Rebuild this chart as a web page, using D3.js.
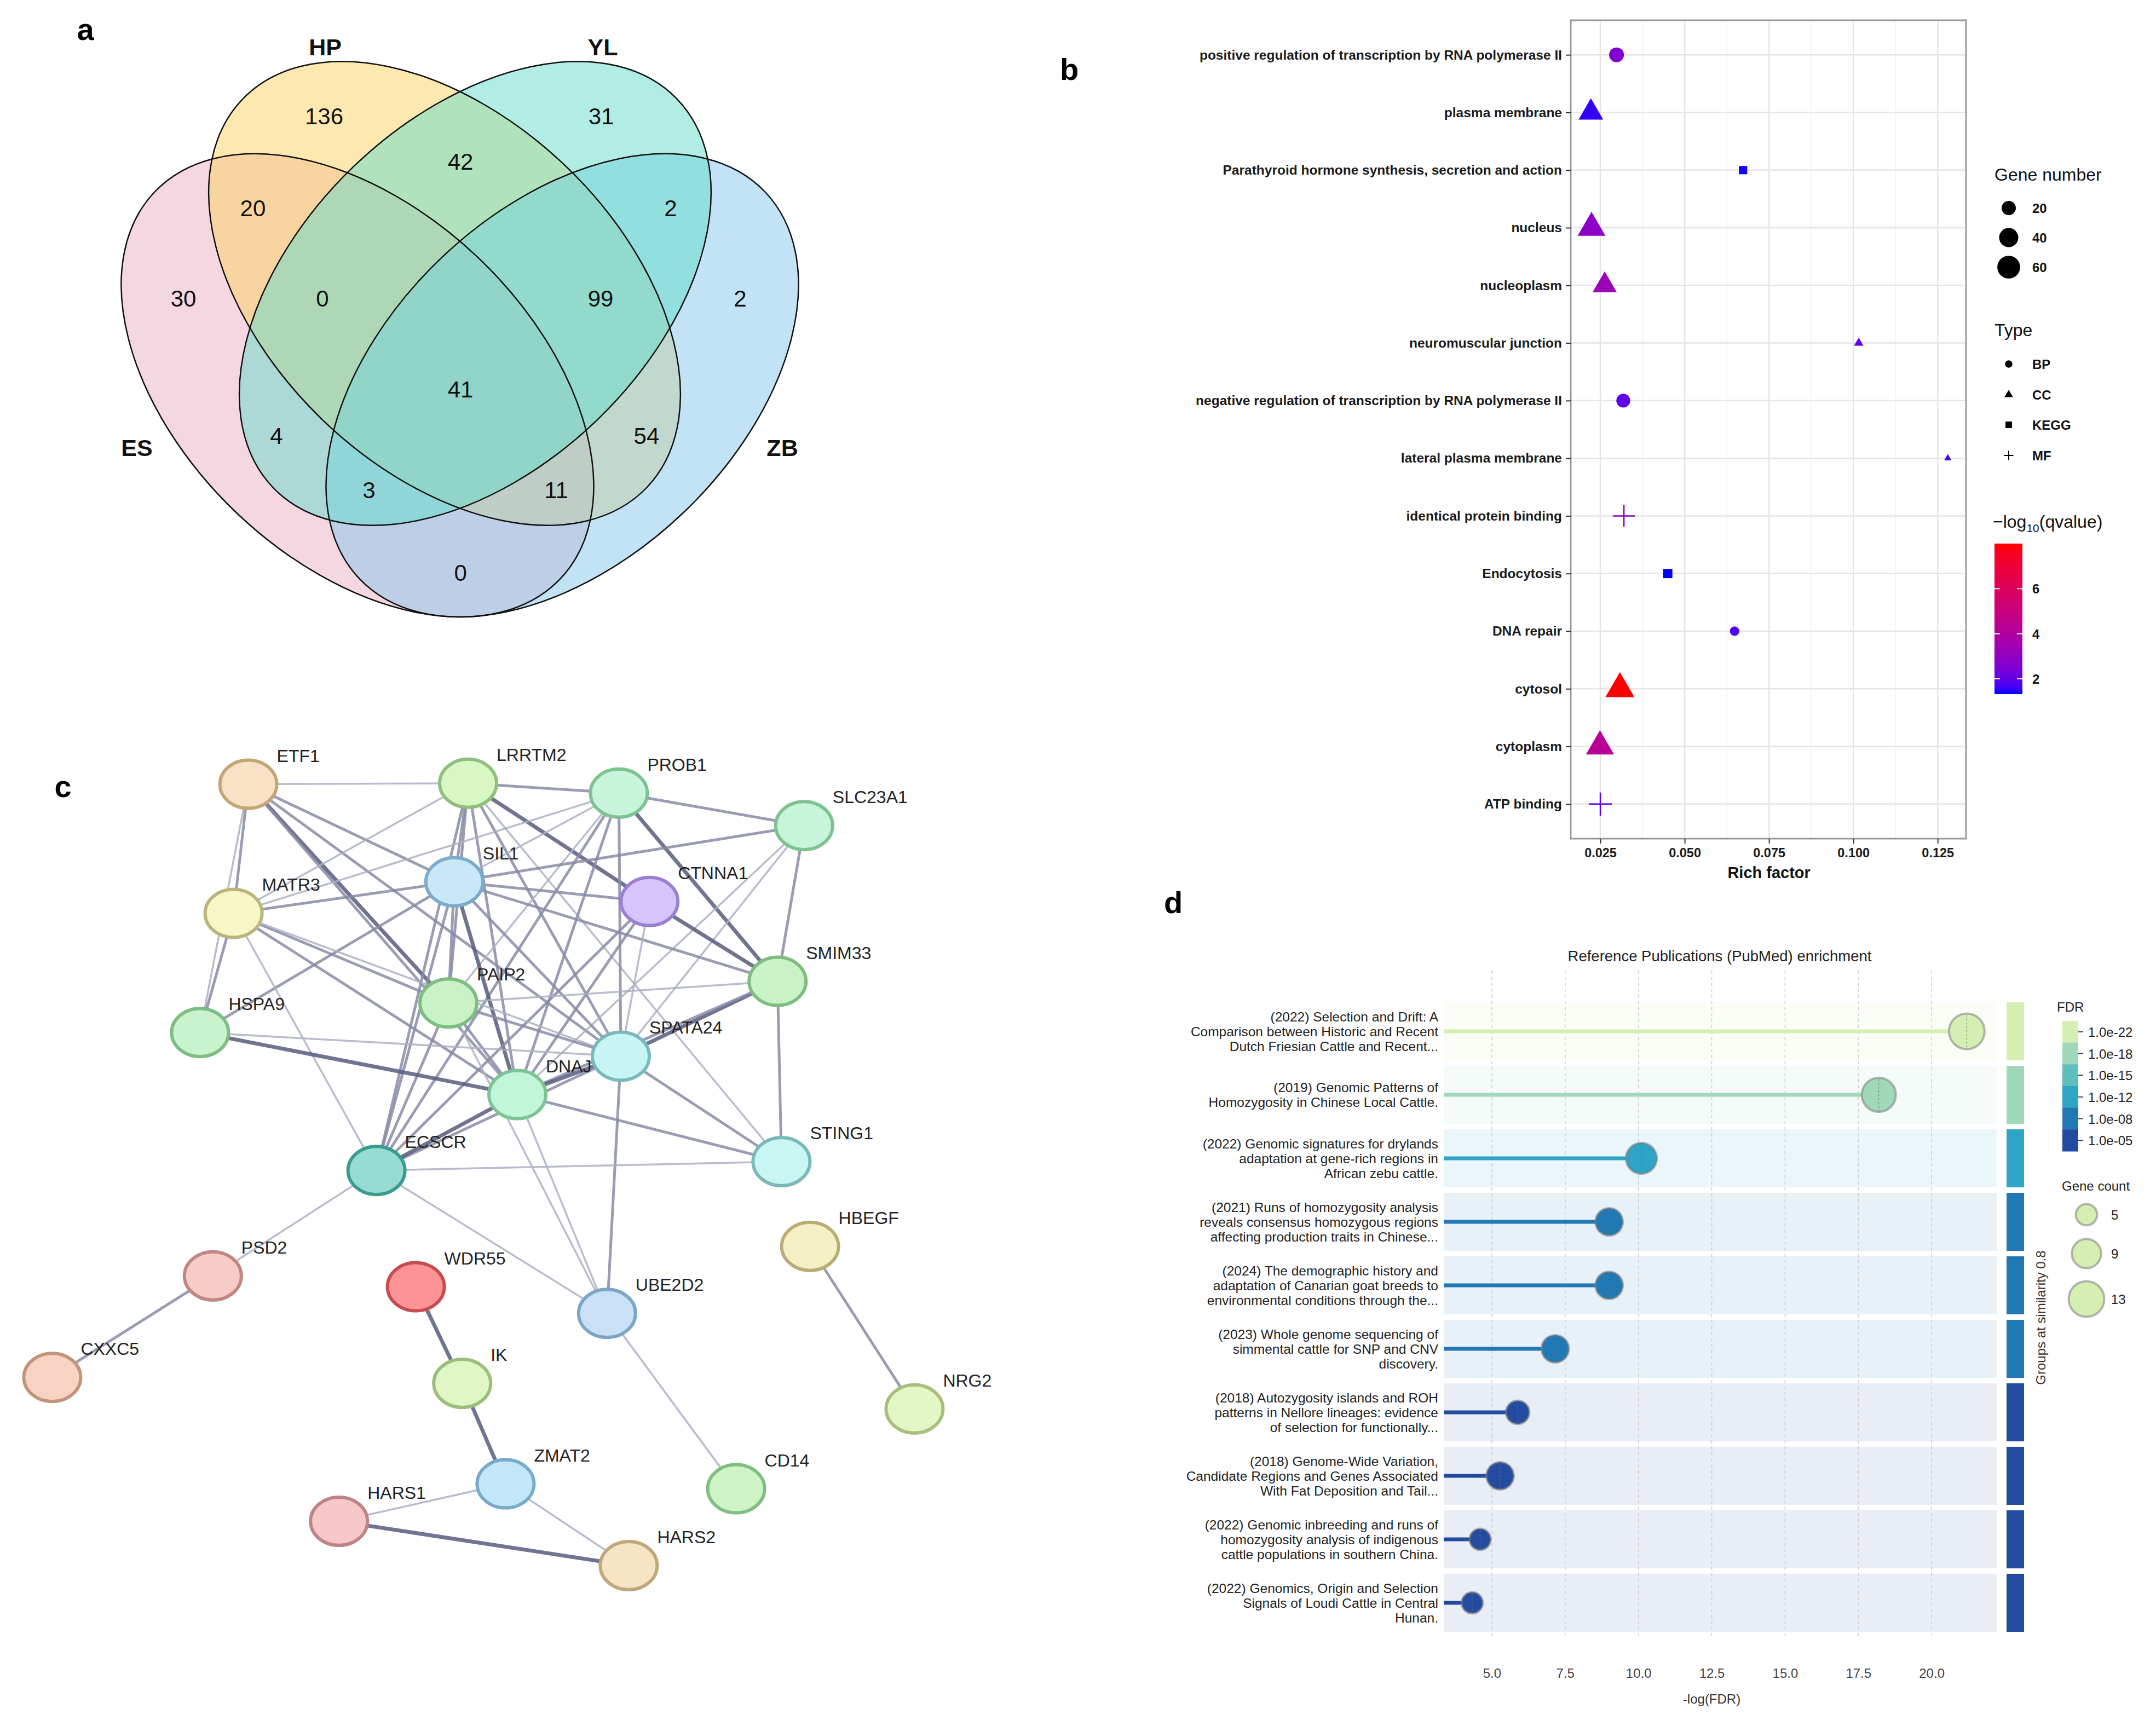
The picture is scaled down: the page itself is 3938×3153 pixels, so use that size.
<!DOCTYPE html>
<html>
<head>
<meta charset="utf-8">
<script src="https://cdn.jsdelivr.net/npm/d3@7"></script>
<style>
  body { margin: 0; background: #fff; }
  svg { display: block; font-family: "Liberation Sans", Arial, Helvetica, sans-serif; }
</style>
</head>
<body>
<svg id="fig" width="3938" height="3153"></svg>
<script>
// ---------- data : panel a (venn) ----------
const vennSets = ["ES", "HP", "YL", "ZB"];
const vennCounts = [136, 31, 42, 20, 2, 30, 0, 99, 2, 41, 4, 54, 3, 11, 0];

// ---------- data : panel b (enrichment dots) ----------
const bTerms = [
  "positive regulation of transcription by RNA polymerase II",
  "plasma membrane",
  "Parathyroid hormone synthesis, secretion and action",
  "nucleus",
  "nucleoplasm",
  "neuromuscular junction",
  "negative regulation of transcription by RNA polymerase II",
  "lateral plasma membrane",
  "identical protein binding",
  "Endocytosis",
  "DNA repair",
  "cytosol",
  "cytoplasm",
  "ATP binding"
];
const bType = ["BP", "CC", "KEGG", "CC", "CC", "CC", "BP", "CC", "MF", "KEGG", "BP", "CC", "CC", "MF"];
const bRich = [0.0298, 0.0222, 0.0673, 0.0224, 0.0263, 0.1016, 0.0318, 0.128, 0.032, 0.045, 0.0648, 0.0308, 0.0249, 0.025];
const bGenes = [22, 52, 8, 68, 50, 6, 19, 4, 32, 10, 8, 75, 70, 37];
const bQ = [2.6, 1.5, 1.35, 2.9, 3.3, 2.0, 2.0, 1.6, 2.8, 1.32, 1.8, 8.0, 4.3, 1.9];
const bTicks = [0.025, 0.05, 0.075, 0.1, 0.125];
const bSizeLegend = [20, 40, 60];
const bTypes = ["BP", "CC", "KEGG", "MF"];
const bColorTicks = [2, 4, 6];

// ---------- data : panel c (network) ----------
const geneNames = ["ETF1", "LRRTM2", "PROB1", "SLC23A1", "SIL1", "CTNNA1", "MATR3", "PAIP2", "SMIM33", "HSPA9",
  "SPATA24", "DNAJ", "ECSCR", "STING1", "HBEGF", "PSD2", "WDR55", "UBE2D2", "CXXC5", "IK", "NRG2", "ZMAT2",
  "CD14", "HARS1", "HARS2"];
const links = [
  ["ETF1", "LRRTM2", 1], ["ETF1", "MATR3", 2], ["ETF1", "HSPA9", 1], ["ETF1", "SIL1", 2], ["ETF1", "PAIP2", 3],
  ["ETF1", "DNAJ", 2], ["ETF1", "SPATA24", 2],
  ["LRRTM2", "PROB1", 2], ["LRRTM2", "MATR3", 1], ["LRRTM2", "SIL1", 2], ["LRRTM2", "PAIP2", 2], ["LRRTM2", "ECSCR", 2],
  ["LRRTM2", "DNAJ", 2], ["LRRTM2", "SPATA24", 2], ["LRRTM2", "CTNNA1", 3], ["LRRTM2", "STING1", 1],
  ["PROB1", "SLC23A1", 2], ["PROB1", "MATR3", 1], ["PROB1", "SIL1", 1], ["PROB1", "SMIM33", 3], ["PROB1", "SPATA24", 2],
  ["PROB1", "DNAJ", 2], ["PROB1", "ECSCR", 2], ["PROB1", "PAIP2", 1],
  ["SLC23A1", "SIL1", 2], ["SLC23A1", "SMIM33", 2], ["SLC23A1", "SPATA24", 1], ["SLC23A1", "DNAJ", 1],
  ["SIL1", "MATR3", 2], ["SIL1", "CTNNA1", 2], ["SIL1", "SMIM33", 2], ["SIL1", "SPATA24", 2], ["SIL1", "DNAJ", 3],
  ["SIL1", "ECSCR", 2], ["SIL1", "PAIP2", 2], ["SIL1", "HSPA9", 2],
  ["CTNNA1", "SMIM33", 3], ["CTNNA1", "ECSCR", 2], ["CTNNA1", "DNAJ", 2], ["CTNNA1", "SPATA24", 1],
  ["MATR3", "PAIP2", 2], ["MATR3", "DNAJ", 2], ["MATR3", "SPATA24", 1], ["MATR3", "ECSCR", 1], ["MATR3", "HSPA9", 2],
  ["PAIP2", "SMIM33", 1], ["PAIP2", "SPATA24", 2], ["PAIP2", "DNAJ", 2], ["PAIP2", "ECSCR", 2], ["PAIP2", "UBE2D2", 1],
  ["SMIM33", "SPATA24", 3], ["SMIM33", "DNAJ", 2], ["SMIM33", "STING1", 2],
  ["HSPA9", "DNAJ", 3], ["HSPA9", "SPATA24", 1],
  ["SPATA24", "DNAJ", 3], ["SPATA24", "ECSCR", 2], ["SPATA24", "STING1", 2], ["SPATA24", "UBE2D2", 2],
  ["DNAJ", "ECSCR", 3], ["DNAJ", "STING1", 2], ["DNAJ", "UBE2D2", 1],
  ["ECSCR", "STING1", 1], ["ECSCR", "PSD2", 1], ["ECSCR", "UBE2D2", 1],
  ["UBE2D2", "CD14", 1], ["PSD2", "CXXC5", 2], ["WDR55", "IK", 3], ["IK", "ZMAT2", 3],
  ["ZMAT2", "HARS1", 1], ["ZMAT2", "HARS2", 1], ["HARS1", "HARS2", 3], ["HBEGF", "NRG2", 2]
];

// ---------- data : panel d (publications) ----------
const pubTitles = [
  ["(2022) Selection and Drift: A", "Comparison between Historic and Recent", "Dutch Friesian Cattle and Recent..."],
  ["(2019) Genomic Patterns of", "Homozygosity in Chinese Local Cattle."],
  ["(2022) Genomic signatures for drylands", "adaptation at gene-rich regions in", "African zebu cattle."],
  ["(2021) Runs of homozygosity analysis", "reveals consensus homozygous regions", "affecting production traits in Chinese..."],
  ["(2024) The demographic history and", "adaptation of Canarian goat breeds to", "environmental conditions through the..."],
  ["(2023) Whole genome sequencing of", "simmental cattle for SNP and CNV", "discovery."],
  ["(2018) Autozygosity islands and ROH", "patterns in Nellore lineages: evidence", "of selection for functionally..."],
  ["(2018) Genome-Wide Variation,", "Candidate Regions and Genes Associated", "With Fat Deposition and Tail..."],
  ["(2022) Genomic inbreeding and runs of", "homozygosity analysis of indigenous", "cattle populations in southern China."],
  ["(2022) Genomics, Origin and Selection", "Signals of Loudi Cattle in Central", "Hunan."]
];
const pubScore = [21.2, 18.2, 10.1, 9.0, 9.0, 7.16, 5.88, 5.28, 4.6, 4.33];
const pubGenes = [13, 12, 10, 8, 8, 8, 6, 8, 5, 5];
const dTicks = [5, 7.5, 10, 12.5, 15, 17.5, 20];
const fdrLabels = ["1.0e-22", "1.0e-18", "1.0e-15", "1.0e-12", "1.0e-08", "1.0e-05"];
const geneCountLegend = [5, 9, 13];

// ---------- layout & styles ----------
const vennFills = ["#ebb0c4", "#fbd260", "#64dbc9", "#83c8eb"];
// ellipses in venn units (1 unit = 1286 px)
const vennShapes = [
  { cx: 0.3522, cy: 0.5474, a: 0.3981, b: 0.2496, rot: 43.7 },
  { cx: 0.4759, cy: 0.4168, a: 0.3981, b: 0.2496, rot: 43.9 },
  { cx: 0.5194, cy: 0.4168, a: 0.3981, b: 0.2496, rot: -43.9 },
  { cx: 0.6431, cy: 0.5474, a: 0.3981, b: 0.2496, rot: -43.7 }
];
const vennCountPos = [[.3048, .1649], [.6983, .1649], [.4985, .2294], [.2037, .2955], [.797, .2955], [.105, .4238],
  [.3025, .4238], [.6975, .4238], [.8958, .4238], [.4985, .5529], [.2372, .619], [.7628, .619], [.3686, .696],
  [.6345, .696], [.4985, .8134]];
const vennLabelPos = [[.0389, .6353], [.3064, .0661], [.7006, .0661], [.9557, .6353]];

const nodeX = [25.2, 47.5, 62.8, 81.6, 46.1, 65.9, 23.7, 45.5, 78.9, 20.3, 63.0, 52.5, 38.2, 79.3, 82.2, 21.6, 42.2,
  61.6, 5.3, 46.9, 92.8, 51.3, 74.7, 34.4, 63.8];
const nodeY = [5.7, 5.6, 6.6, 9.9, 15.6, 17.6, 18.8, 27.9, 25.7, 30.9, 33.3, 37.2, 44.9, 44.0, 52.6, 55.6, 56.7,
  59.4, 65.9, 66.5, 69.1, 76.7, 77.2, 80.5, 85.0];
const nodeFill = ["#f9e1c5", "#d9f6c5", "#c7f4da", "#c7f4da", "#c8e8f8", "#d4c5fb", "#f7f6c6", "#c9f3c6", "#c9f3c6",
  "#c9f3cc", "#c7f5f6", "#c1f6d9", "#96dcd3", "#c7f6f3", "#f4f0c4", "#f8ccc6", "#fc9497", "#c8e1f7", "#f7d3c3",
  "#dff6c5", "#e4f6c5", "#c3e6f9", "#cef4c6", "#f8c8c9", "#f7e4c4"];
const nodeStroke = ["#c2a676", "#8fbf7c", "#7fc292", "#7fc292", "#7daccb", "#9b7fd2", "#b9b57c", "#7dbd7f", "#7dbd7f",
  "#7dbd84", "#7ab9bb", "#7dc494", "#3a9b8e", "#7ab9b6", "#b9ac74", "#c08680", "#c64c50", "#7ca5c6", "#c0957a",
  "#9cbd7c", "#a8bf7c", "#78abca", "#7ebe80", "#bf8487", "#bea87c"];
const edgeStyle = { 1: { w: 3.5, c: "#acb0c2" }, 2: { w: 5, c: "#878ba6" }, 3: { w: 7, c: "#575c7e" } };

const fdrColors = ["#d5efb2", "#a0d9b8", "#5ebfbc", "#2ea4c6", "#2079b5", "#234ba0"];

const svg = d3.select("#fig");
svg.append("rect").attr("width", 3938).attr("height", 3153).attr("fill", "#fff");

function letter(t, x, y) {
  svg.append("text").attr("x", x).attr("y", y).attr("text-anchor", "middle")
    .attr("font-size", 56).attr("font-weight", "bold").attr("fill", "#000").text(t);
}

// =============== panel a ===============
const vu = d3.scaleLinear().domain([0, 1]).range([0, 1286]);
const gA = svg.append("g").attr("transform", "translate(200,0)");
const drawOrder = [0, 1, 3, 2]; // ES, HP, ZB, YL
gA.selectAll("ellipse.vf").data(drawOrder).join("ellipse").attr("class", "vf")
  .attr("transform", i => `translate(${vu(vennShapes[i].cx)},${vu(vennShapes[i].cy)}) rotate(${vennShapes[i].rot})`)
  .attr("rx", i => vu(vennShapes[i].a)).attr("ry", i => vu(vennShapes[i].b))
  .attr("fill", i => vennFills[i]).attr("fill-opacity", 0.5);
gA.selectAll("ellipse.vl").data(drawOrder).join("ellipse").attr("class", "vl")
  .attr("transform", i => `translate(${vu(vennShapes[i].cx)},${vu(vennShapes[i].cy)}) rotate(${vennShapes[i].rot})`)
  .attr("rx", i => vu(vennShapes[i].a)).attr("ry", i => vu(vennShapes[i].b))
  .attr("fill", "none").attr("stroke", "#111").attr("stroke-width", 2.5);
gA.selectAll("text.cnt").data(vennCounts).join("text").attr("class", "cnt")
  .attr("x", (d, i) => vu(vennCountPos[i][0])).attr("y", (d, i) => vu(vennCountPos[i][1]) + 15)
  .attr("text-anchor", "middle").attr("font-size", 42).attr("fill", "#111").text(d => d);
gA.selectAll("text.set").data(vennSets).join("text").attr("class", "set")
  .attr("x", (d, i) => vu(vennLabelPos[i][0])).attr("y", (d, i) => vu(vennLabelPos[i][1]) + 16)
  .attr("text-anchor", "middle").attr("font-size", 43).attr("font-weight", "bold").attr("fill", "#111").text(d => d);
letter("a", 156, 73);

// =============== panel b ===============
const bx = d3.scaleLinear().domain([0.01623, 0.1334]).range([2869, 3591]);
const by = d3.scalePoint().domain(bTerms).range([37, 1532]).padding(0.6);
const bColor = d3.scaleLinear().domain([1.32, 8.0]).range(["blue", "red"]).interpolate(d3.interpolateLab);
const bNorm = d3.scaleLinear().domain([3, 75]).range([0, 1]).clamp(true);
const bRad = d3.scaleLinear().domain([0, 1]).range([3.5, 23]);
const rOf = n => bRad(Math.sqrt(bNorm(n)));

function shapePath(type, r) {
  if (type === "BP") return d3.symbol(d3.symbolCircle, Math.PI * r * r)();
  if (type === "CC") { const s = 2.3 * r; return d3.symbol(d3.symbolTriangle, Math.sqrt(3) / 4 * s * s)(); }
  if (type === "KEGG") { const s = 1.75 * r; return d3.symbol(d3.symbolSquare, s * s)(); }
  const h = 1.25 * r;
  return `M${-h},0H${h}M0,${-h}V${h}`;
}

const gB = svg.append("g");
const minorTicks = [0.0375, 0.0625, 0.0875, 0.1125];
gB.selectAll("line.minor").data(minorTicks).join("line")
  .attr("x1", d => bx(d)).attr("x2", d => bx(d)).attr("y1", 37).attr("y2", 1532)
  .attr("stroke", "#f2f2f2").attr("stroke-width", 1.5);
gB.selectAll("line.major").data(bTicks).join("line")
  .attr("x1", d => bx(d)).attr("x2", d => bx(d)).attr("y1", 37).attr("y2", 1532)
  .attr("stroke", "#e5e5e5").attr("stroke-width", 2.5);
gB.selectAll("line.hgrid").data(bTerms).join("line")
  .attr("x1", 2869).attr("x2", 3591).attr("y1", d => by(d)).attr("y2", d => by(d))
  .attr("stroke", "#e5e5e5").attr("stroke-width", 2.5);

gB.selectAll("path.pt").data(bTerms).join("path")
  .attr("transform", (d, i) => `translate(${bx(bRich[i])},${by(d)})`)
  .attr("d", (d, i) => shapePath(bType[i], rOf(bGenes[i])))
  .attr("fill", (d, i) => bType[i] === "MF" ? "none" : bColor(bQ[i]))
  .attr("stroke", (d, i) => bType[i] === "MF" ? bColor(bQ[i]) : "none")
  .attr("stroke-width", 2.5);

gB.append("rect").attr("x", 2869).attr("y", 37).attr("width", 3591 - 2869).attr("height", 1532 - 37)
  .attr("fill", "none").attr("stroke", "#9a9a9a").attr("stroke-width", 3);

const yAx = gB.append("g").attr("transform", "translate(2869,0)")
  .call(d3.axisLeft(by).tickSize(9).tickPadding(7));
const xAx = gB.append("g").attr("transform", "translate(0,1532)")
  .call(d3.axisBottom(bx).tickValues(bTicks).tickFormat(d3.format(".3f")).tickSize(9).tickPadding(8));
[yAx, xAx].forEach(ax => {
  ax.select(".domain").remove();
  ax.selectAll(".tick line").attr("stroke", "#333").attr("stroke-width", 2);
  ax.selectAll(".tick text").attr("font-weight", "bold").attr("fill", "#1a1a1a")
    .attr("font-family", "'Liberation Sans', Arial, sans-serif");
});
yAx.selectAll(".tick text").attr("font-size", 24.5);
xAx.selectAll(".tick text").attr("font-size", 23.5);
gB.append("text").attr("x", bx(0.075)).attr("y", 1604).attr("text-anchor", "middle")
  .attr("font-size", 29).attr("font-weight", "bold").attr("fill", "#111").text("Rich factor");

// legends b
gB.append("text").attr("x", 3643).attr("y", 330).attr("font-size", 32).attr("fill", "#111").text("Gene number");
const sizeY = [380, 434, 488];
gB.selectAll("circle.sl").data(bSizeLegend).join("circle")
  .attr("cx", 3669).attr("cy", (d, i) => sizeY[i]).attr("r", d => rOf(d)).attr("fill", "#000");
gB.selectAll("text.sl").data(bSizeLegend).join("text")
  .attr("x", 3712).attr("y", (d, i) => sizeY[i] + 9).attr("font-size", 24).attr("font-weight", "bold")
  .attr("fill", "#111").text(d => d);

gB.append("text").attr("x", 3643).attr("y", 614).attr("font-size", 32).attr("fill", "#111").text("Type");
const typeY = [665, 721, 776, 832];
gB.selectAll("path.tl").data(bTypes).join("path")
  .attr("transform", (d, i) => `translate(3669,${typeY[i]})`)
  .attr("d", d => shapePath(d, 6.8))
  .attr("fill", d => d === "MF" ? "none" : "#000").attr("stroke", d => d === "MF" ? "#000" : "none")
  .attr("stroke-width", 2);
gB.selectAll("text.tl").data(bTypes).join("text")
  .attr("x", 3712).attr("y", (d, i) => typeY[i] + 9).attr("font-size", 24).attr("font-weight", "bold")
  .attr("fill", "#111").text(d => d);

const qt = gB.append("text").attr("x", 3640).attr("y", 964).attr("font-size", 32).attr("fill", "#111");
qt.append("tspan").text("\u2212log");
qt.append("tspan").attr("font-size", 21).attr("dy", 8).text("10");
qt.append("tspan").attr("dy", -8).text("(qvalue)");

const cbY = d3.scaleLinear().domain([1.32, 8.0]).range([1268, 993]);
const grad = svg.append("defs").append("linearGradient").attr("id", "qgrad")
  .attr("x1", 0).attr("y1", 1).attr("x2", 0).attr("y2", 0);
grad.selectAll("stop").data(d3.range(0, 1.0001, 0.05)).join("stop")
  .attr("offset", d => d).attr("stop-color", d => bColor(1.32 + d * (8.0 - 1.32)));
gB.append("rect").attr("x", 3643).attr("y", 993).attr("width", 51).attr("height", 275).attr("fill", "url(#qgrad)");
bColorTicks.forEach(v => {
  gB.append("line").attr("x1", 3643).attr("x2", 3653).attr("y1", cbY(v)).attr("y2", cbY(v)).attr("stroke", "#fff").attr("stroke-width", 2);
  gB.append("line").attr("x1", 3684).attr("x2", 3694).attr("y1", cbY(v)).attr("y2", cbY(v)).attr("stroke", "#fff").attr("stroke-width", 2);
});
gB.selectAll("text.cb").data(bColorTicks).join("text")
  .attr("x", 3712).attr("y", d => cbY(d) + 9).attr("font-size", 24).attr("font-weight", "bold")
  .attr("fill", "#111").text(d => d);
letter("b", 1953, 146);

// =============== panel c ===============
const nx = d3.scaleLinear().domain([0, 100]).range([0, 1800]);
const ny = d3.scaleLinear().domain([0, 100]).range([1330, 3130]);
const idx = new Map(geneNames.map((g, i) => [g, i]));
const gC = svg.append("g");
gC.selectAll("line.edge").data(links).join("line")
  .attr("x1", d => nx(nodeX[idx.get(d[0])])).attr("y1", d => ny(nodeY[idx.get(d[0])]))
  .attr("x2", d => nx(nodeX[idx.get(d[1])])).attr("y2", d => ny(nodeY[idx.get(d[1])]))
  .attr("stroke", d => edgeStyle[d[2]].c).attr("stroke-width", d => edgeStyle[d[2]].w)
  .attr("stroke-opacity", 0.85).attr("stroke-linecap", "round");
gC.selectAll("text.gl").data(geneNames).join("text")
  .attr("x", (d, i) => nx(nodeX[i]) + 52).attr("y", (d, i) => ny(nodeY[i]) - 41)
  .attr("font-size", 32).attr("fill", "#222").text(d => d);
gC.selectAll("ellipse.node").data(geneNames).join("ellipse")
  .attr("cx", (d, i) => nx(nodeX[i])).attr("cy", (d, i) => ny(nodeY[i]))
  .attr("rx", 52).attr("ry", 44)
  .attr("fill", (d, i) => nodeFill[i]).attr("stroke", (d, i) => nodeStroke[i]).attr("stroke-width", 6);
letter("c", 115, 1456);

// =============== panel d ===============
const dx = d3.scaleLinear().domain([3.358, 22.22]).range([2637, 3647]);
const dy = d3.scaleBand().domain(d3.range(pubTitles.length)).range([1821, 2991]).paddingInner(0.086).paddingOuter(0.086);
const fdrColor = d3.scaleThreshold().domain([7, 10, 15, 18, 21]).range(fdrColors.slice().reverse());
const dr = d3.scaleSqrt().domain([0, 13]).range([0, 34.5]);
const gD = svg.append("g");
const rows = d3.range(pubTitles.length);

gD.selectAll("rect.band").data(rows).join("rect")
  .attr("x", 2637).attr("width", 3647 - 2637).attr("y", i => dy(i)).attr("height", dy.bandwidth())
  .attr("fill", i => fdrColor(pubScore[i])).attr("fill-opacity", 0.1);
gD.selectAll("line.dgrid").data(dTicks).join("line")
  .attr("x1", d => dx(d)).attr("x2", d => dx(d)).attr("y1", 1773).attr("y2", 2988)
  .attr("stroke", "#cfcfcf").attr("stroke-width", 1.6).attr("stroke-dasharray", "6,5");
gD.selectAll("rect.side").data(rows).join("rect")
  .attr("x", 3665).attr("width", 32).attr("y", i => dy(i)).attr("height", dy.bandwidth())
  .attr("fill", i => fdrColor(pubScore[i]));
const cy = i => dy(i) + dy.bandwidth() / 2;
gD.selectAll("line.stem").data(rows).join("line")
  .attr("x1", 2637).attr("x2", i => dx(pubScore[i])).attr("y1", cy).attr("y2", cy)
  .attr("stroke", i => fdrColor(pubScore[i])).attr("stroke-width", 7);
gD.selectAll("circle.dot").data(rows).join("circle")
  .attr("cx", i => dx(pubScore[i])).attr("cy", cy).attr("r", i => dr(pubGenes[i]) - 2)
  .attr("fill", i => fdrColor(pubScore[i])).attr("stroke", "rgba(125,125,125,0.55)").attr("stroke-width", 4);
gD.selectAll("line.inner").data(rows).join("line")
  .attr("x1", i => dx(pubScore[i])).attr("x2", i => dx(pubScore[i]))
  .attr("y1", i => cy(i) - dr(pubGenes[i]) + 4).attr("y2", i => cy(i) + dr(pubGenes[i]) - 4)
  .attr("stroke", "rgba(110,110,110,0.6)").attr("stroke-width", 1.5).attr("stroke-dasharray", "4,3");

gD.selectAll("text.pub").data(rows).join("text").attr("class", "pub")
  .attr("text-anchor", "end").attr("font-size", 24.5).attr("fill", "#222")
  .each(function (i) {
    const lines = pubTitles[i];
    d3.select(this).selectAll("tspan").data(lines).join("tspan")
      .attr("x", 2627).attr("y", (l, k) => cy(i) + (k - (lines.length - 1) / 2) * 27 + 9).text(l => l);
  });

const dAx = gD.append("g").attr("transform", "translate(0,3040)")
  .call(d3.axisBottom(dx).tickValues(dTicks).tickFormat(d3.format(".1f")).tickSize(0).tickPadding(8));
dAx.select(".domain").remove();
dAx.selectAll(".tick text").attr("font-size", 24).attr("fill", "#444")
  .attr("font-family", "'Liberation Sans', Arial, sans-serif");
gD.append("text").attr("x", dx(12.5)).attr("y", 3112).attr("text-anchor", "middle")
  .attr("font-size", 24).attr("fill", "#333").text("-log(FDR)");
gD.append("text").attr("x", 3141).attr("y", 1756).attr("text-anchor", "middle")
  .attr("font-size", 27.5).attr("fill", "#222").text("Reference Publications (PubMed) enrichment");
gD.append("text").attr("transform", "translate(3736,2407) rotate(-90)").attr("text-anchor", "middle")
  .attr("font-size", 24).attr("fill", "#333").text("Groups at similarity 0.8");

// FDR legend
gD.append("text").attr("x", 3757).attr("y", 1848).attr("font-size", 24).attr("fill", "#222").text("FDR");
const legY = d3.scaleBand().domain(fdrLabels).range([1865, 2103]);
gD.selectAll("rect.fdr").data(fdrLabels).join("rect")
  .attr("x", 3767).attr("width", 29).attr("y", d => legY(d)).attr("height", legY.bandwidth() + 0.5)
  .attr("fill", (d, i) => fdrColors[i]);
gD.selectAll("line.fdr").data(fdrLabels).join("line")
  .attr("x1", 3796).attr("x2", 3805).attr("y1", d => legY(d) + legY.bandwidth() / 2).attr("y2", d => legY(d) + legY.bandwidth() / 2)
  .attr("stroke", "#444").attr("stroke-width", 2);
gD.selectAll("text.fdr").data(fdrLabels).join("text")
  .attr("x", 3814).attr("y", d => legY(d) + legY.bandwidth() / 2 + 9)
  .attr("font-size", 24).attr("fill", "#222").text(d => d);

// gene count legend
gD.append("text").attr("x", 3766).attr("y", 2175).attr("font-size", 24).attr("fill", "#222").text("Gene count");
const gcY = [2219, 2290, 2373];
gD.selectAll("circle.gc").data(geneCountLegend).join("circle")
  .attr("cx", 3811).attr("cy", (d, i) => gcY[i]).attr("r", d => dr(d) - 2)
  .attr("fill", fdrColors[0]).attr("stroke", "rgba(125,125,125,0.55)").attr("stroke-width", 4);
gD.selectAll("text.gc").data(geneCountLegend).join("text")
  .attr("x", 3856).attr("y", (d, i) => gcY[i] + 9).attr("font-size", 24).attr("fill", "#222").text(d => d);
letter("d", 2143, 1668);
</script>
</body>
</html>
